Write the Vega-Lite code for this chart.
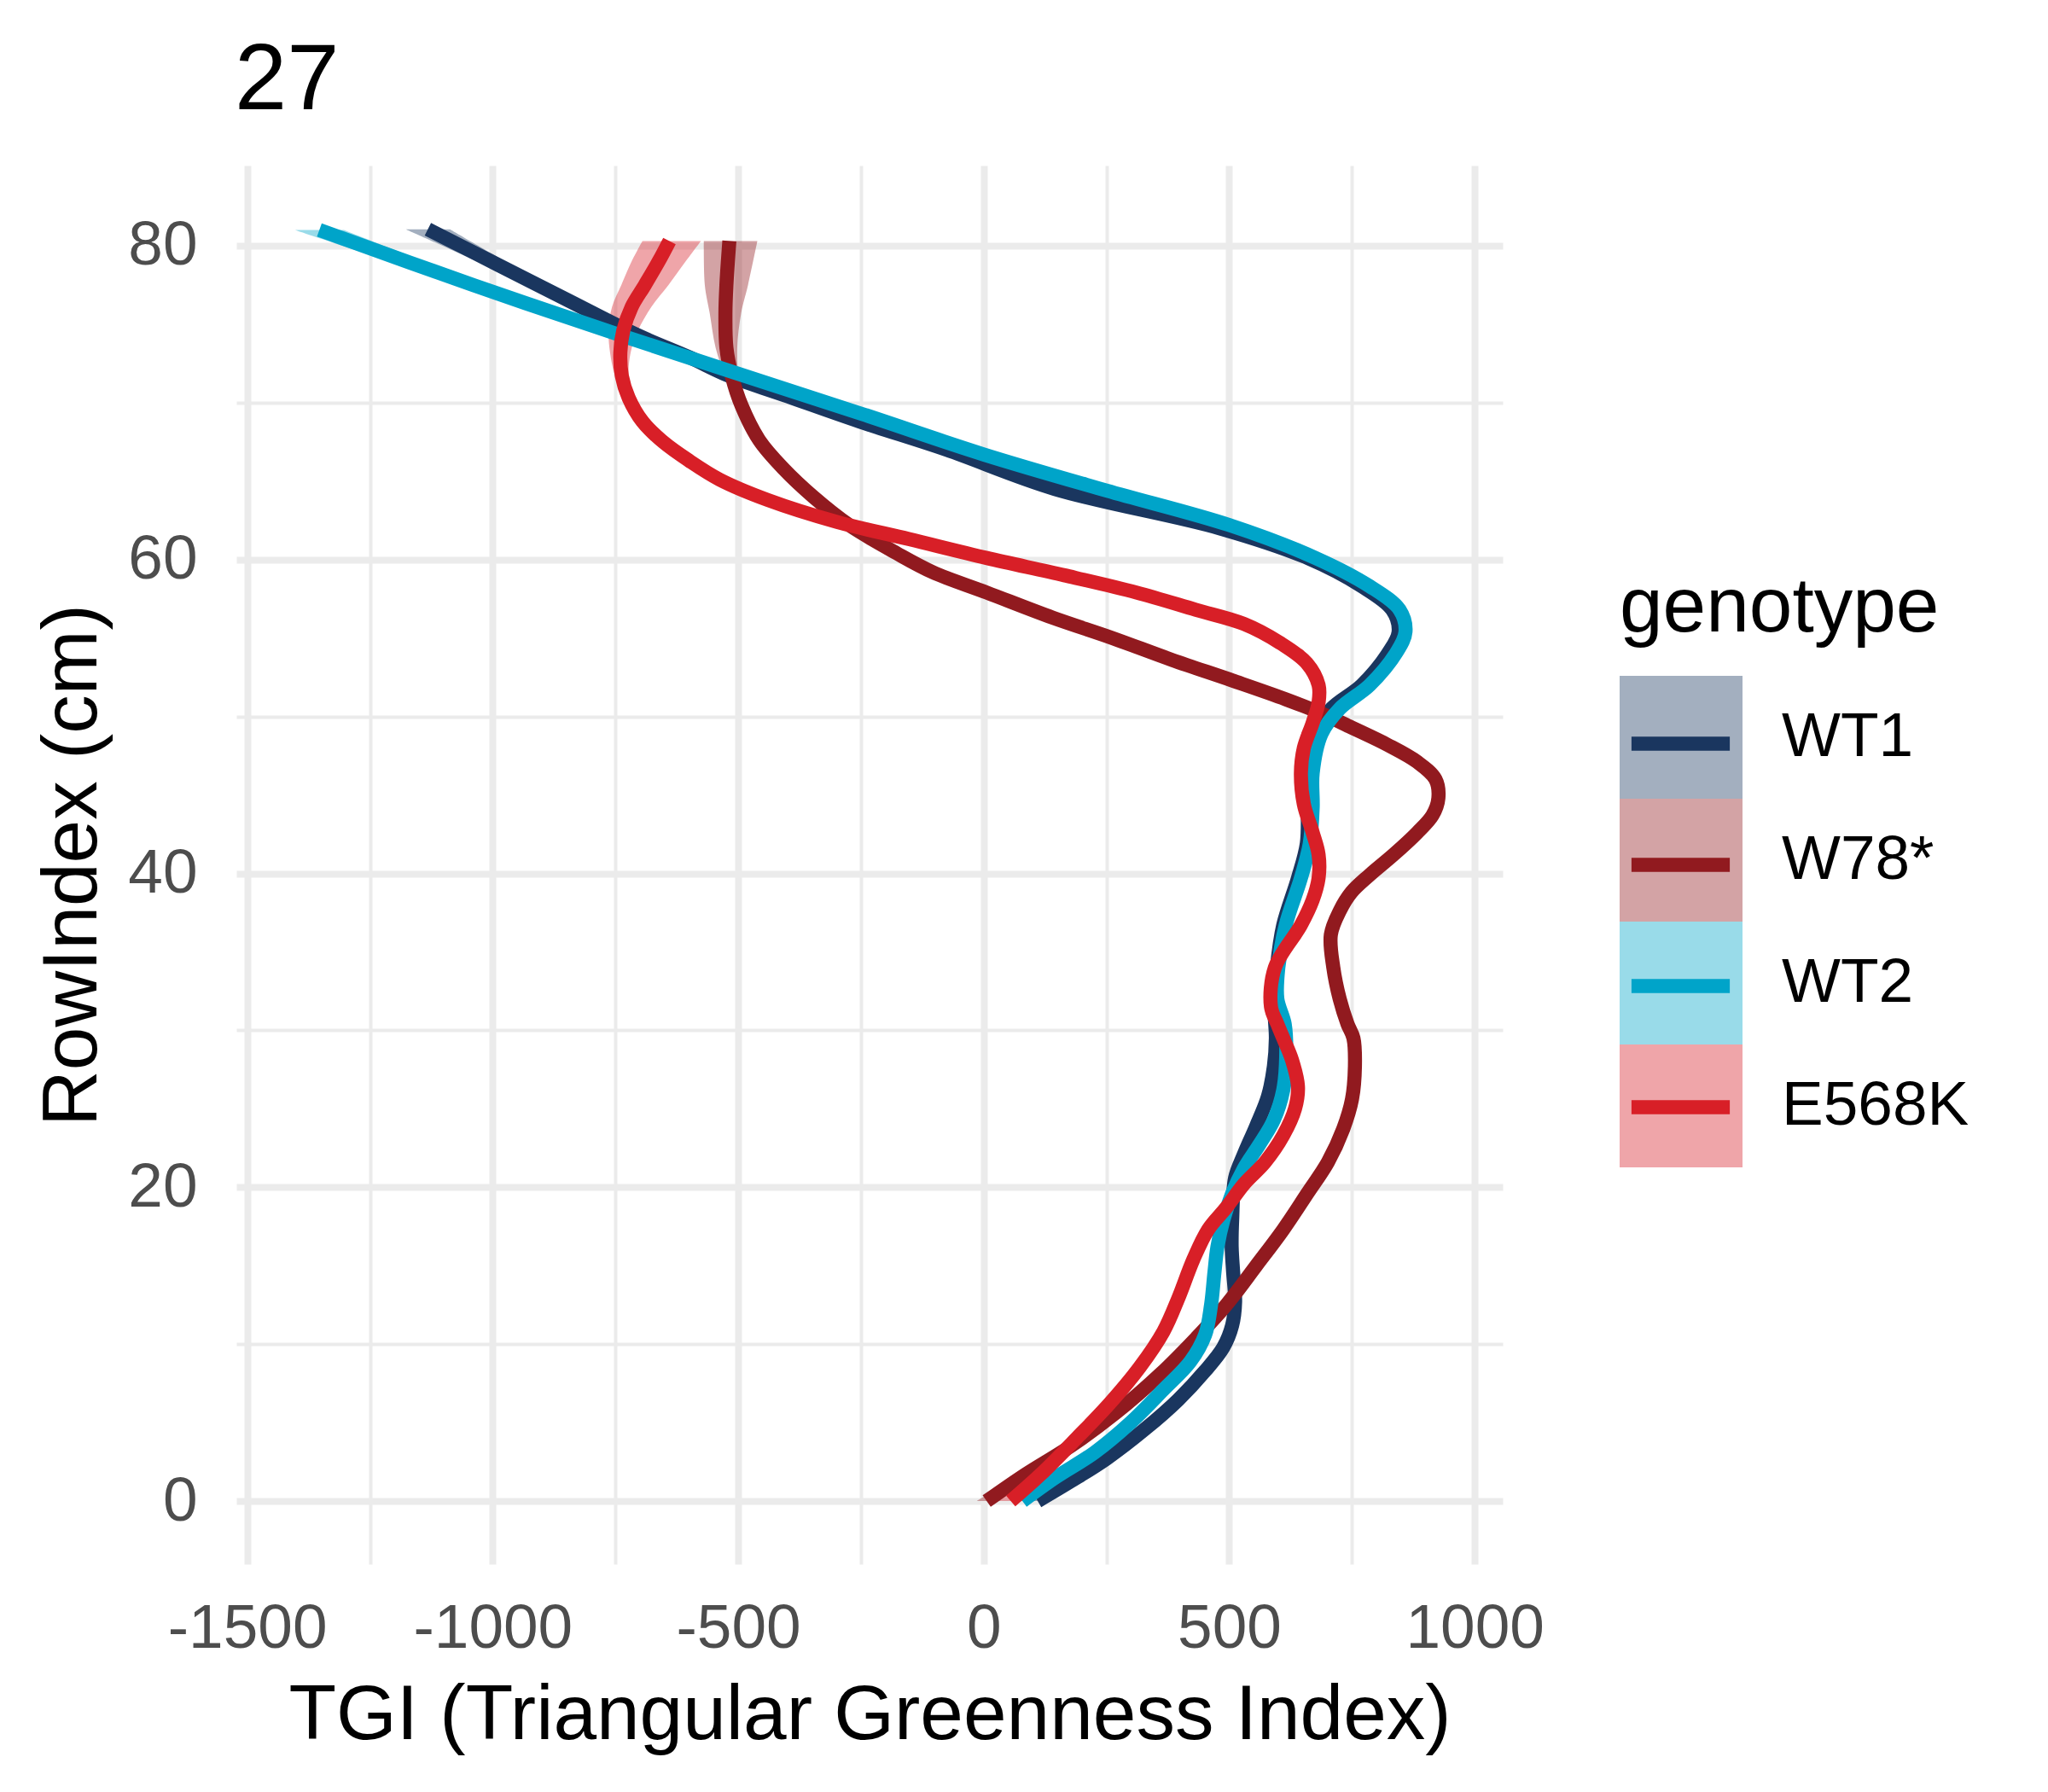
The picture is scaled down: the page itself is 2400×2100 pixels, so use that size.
{
  "$schema": "https://vega.github.io/schema/vega-lite/v6.json",
  "autosize": {"type": "none"},
  "padding": {"left": 277, "top": 194, "right": 639, "bottom": 267},
  "width": 1484,
  "height": 1639,
  "background": "white",
  "title": {"text": "27", "anchor": "start", "frame": "group", "fontSize": 110, "font": "Liberation Sans", "fontWeight": "normal", "color": "black", "baseline": "alphabetic", "offset": -44, "dx": -2},
  "config": {
    "view": {"stroke": null},
    "font": "Liberation Sans",
    "axis": {"domain": false, "ticks": false, "tickSize": 0, "gridColor": "#ebebeb", "labelFont": "Liberation Sans", "titleFont": "Liberation Sans", "labelColor": "#4d4d4d", "labelFontSize": 73, "labelLimit": 1000, "titleFontSize": 91, "titleColor": "black", "titleFontWeight": "normal", "titleLimit": 3000},
    "legend": {"labelFont": "Liberation Sans", "titleFont": "Liberation Sans", "labelLimit": 1000, "titleLimit": 1000}
  },
  "data": {"values": [
    {"g":"WT1","y":0,"x":110,"lo":100,"hi":120},
    {"g":"WT1","y":1.25,"x":177,"lo":170,"hi":184},
    {"g":"WT1","y":2.7,"x":250,"lo":243,"hi":257},
    {"g":"WT1","y":4.6,"x":329,"lo":322,"hi":336},
    {"g":"WT1","y":6.45,"x":396,"lo":389,"hi":403},
    {"g":"WT1","y":8.3,"x":451,"lo":444,"hi":458},
    {"g":"WT1","y":9.8,"x":488,"lo":481,"hi":495},
    {"g":"WT1","y":11.2,"x":506,"lo":499,"hi":513},
    {"g":"WT1","y":12.7,"x":512,"lo":505,"hi":519},
    {"g":"WT1","y":14.6,"x":508,"lo":501,"hi":515},
    {"g":"WT1","y":16.2,"x":505,"lo":498,"hi":512},
    {"g":"WT1","y":17.9,"x":506,"lo":499,"hi":513},
    {"g":"WT1","y":20.6,"x":512,"lo":505,"hi":519},
    {"g":"WT1","y":22.1,"x":530,"lo":523,"hi":537},
    {"g":"WT1","y":23.9,"x":555,"lo":548,"hi":562},
    {"g":"WT1","y":25.8,"x":579,"lo":572,"hi":586},
    {"g":"WT1","y":27.7,"x":591,"lo":584,"hi":598},
    {"g":"WT1","y":29.5,"x":595,"lo":588,"hi":602},
    {"g":"WT1","y":31.5,"x":592,"lo":585,"hi":599},
    {"g":"WT1","y":34,"x":597,"lo":590,"hi":604},
    {"g":"WT1","y":36.7,"x":610,"lo":603,"hi":617},
    {"g":"WT1","y":39.7,"x":640,"lo":633,"hi":647},
    {"g":"WT1","y":41.9,"x":658,"lo":651,"hi":665},
    {"g":"WT1","y":44.2,"x":660,"lo":653,"hi":667},
    {"g":"WT1","y":46.4,"x":660,"lo":653,"hi":667},
    {"g":"WT1","y":48.9,"x":675,"lo":668,"hi":682},
    {"g":"WT1","y":50.5,"x":708,"lo":701,"hi":715},
    {"g":"WT1","y":52,"x":770,"lo":763,"hi":777},
    {"g":"WT1","y":54.1,"x":825,"lo":818,"hi":832},
    {"g":"WT1","y":55.4,"x":845,"lo":838,"hi":852},
    {"g":"WT1","y":56.8,"x":832,"lo":825,"hi":839},
    {"g":"WT1","y":58.3,"x":770,"lo":763,"hi":777},
    {"g":"WT1","y":60.1,"x":660,"lo":653,"hi":667},
    {"g":"WT1","y":62,"x":480,"lo":473,"hi":487},
    {"g":"WT1","y":64.5,"x":145,"lo":138,"hi":152},
    {"g":"WT1","y":67,"x":-76,"lo":-83,"hi":-69},
    {"g":"WT1","y":68.8,"x":-253,"lo":-260,"hi":-246},
    {"g":"WT1","y":70.5,"x":-408,"lo":-415,"hi":-401},
    {"g":"WT1","y":71.7,"x":-518,"lo":-525,"hi":-511},
    {"g":"WT1","y":72.9,"x":-600,"lo":-608,"hi":-592},
    {"g":"WT1","y":74.3,"x":-705,"lo":-716,"hi":-694},
    {"g":"WT1","y":76.5,"x":-845,"lo":-862,"hi":-828},
    {"g":"WT1","y":78.8,"x":-990,"lo":-1018,"hi":-962},
    {"g":"WT1","y":81.05,"x":-1132,"lo":-1177,"hi":-1087},

    {"g":"W78*","y":0,"x":6,"lo":-14,"hi":26},
    {"g":"W78*","y":1.7,"x":85,"lo":75,"hi":95},
    {"g":"W78*","y":3.5,"x":177,"lo":169,"hi":185},
    {"g":"W78*","y":5.6,"x":268,"lo":261,"hi":275},
    {"g":"W78*","y":8.1,"x":360,"lo":353,"hi":367},
    {"g":"W78*","y":10.4,"x":433,"lo":426,"hi":440},
    {"g":"W78*","y":12.5,"x":494,"lo":487,"hi":501},
    {"g":"W78*","y":15,"x":555,"lo":548,"hi":562},
    {"g":"W78*","y":17.3,"x":610,"lo":603,"hi":617},
    {"g":"W78*","y":19.6,"x":659,"lo":652,"hi":666},
    {"g":"W78*","y":21.6,"x":701,"lo":694,"hi":708},
    {"g":"W78*","y":23.7,"x":732,"lo":725,"hi":739},
    {"g":"W78*","y":25.6,"x":750,"lo":743,"hi":757},
    {"g":"W78*","y":27.7,"x":756,"lo":749,"hi":763},
    {"g":"W78*","y":29.5,"x":753,"lo":746,"hi":760},
    {"g":"W78*","y":30.4,"x":741,"lo":734,"hi":748},
    {"g":"W78*","y":32,"x":725,"lo":718,"hi":732},
    {"g":"W78*","y":34,"x":712,"lo":705,"hi":719},
    {"g":"W78*","y":36.1,"x":707,"lo":700,"hi":714},
    {"g":"W78*","y":37.6,"x":725,"lo":718,"hi":732},
    {"g":"W78*","y":38.8,"x":749,"lo":742,"hi":756},
    {"g":"W78*","y":39.9,"x":786,"lo":779,"hi":793},
    {"g":"W78*","y":41.2,"x":835,"lo":828,"hi":842},
    {"g":"W78*","y":42.6,"x":883,"lo":876,"hi":890},
    {"g":"W78*","y":43.7,"x":914,"lo":907,"hi":921},
    {"g":"W78*","y":44.8,"x":926,"lo":919,"hi":933},
    {"g":"W78*","y":46,"x":920,"lo":913,"hi":927},
    {"g":"W78*","y":47.1,"x":883,"lo":876,"hi":890},
    {"g":"W78*","y":48.2,"x":822,"lo":815,"hi":829},
    {"g":"W78*","y":49.3,"x":749,"lo":742,"hi":756},
    {"g":"W78*","y":50.2,"x":688,"lo":681,"hi":695},
    {"g":"W78*","y":51.1,"x":615,"lo":608,"hi":622},
    {"g":"W78*","y":52.3,"x":506,"lo":499,"hi":513},
    {"g":"W78*","y":53.6,"x":384,"lo":377,"hi":391},
    {"g":"W78*","y":55,"x":262,"lo":255,"hi":269},
    {"g":"W78*","y":56.3,"x":140,"lo":133,"hi":147},
    {"g":"W78*","y":57.9,"x":6,"lo":-1,"hi":13},
    {"g":"W78*","y":59.2,"x":-104,"lo":-111,"hi":-97},
    {"g":"W78*","y":60.4,"x":-177,"lo":-184,"hi":-170},
    {"g":"W78*","y":62.2,"x":-274,"lo":-281,"hi":-267},
    {"g":"W78*","y":64,"x":-347,"lo":-354,"hi":-340},
    {"g":"W78*","y":65.8,"x":-408,"lo":-415,"hi":-401},
    {"g":"W78*","y":67.6,"x":-457,"lo":-465,"hi":-449},
    {"g":"W78*","y":69.8,"x":-493,"lo":-503,"hi":-483},
    {"g":"W78*","y":71.7,"x":-513,"lo":-527,"hi":-499},
    {"g":"W78*","y":73.5,"x":-524,"lo":-546,"hi":-502},
    {"g":"W78*","y":75.7,"x":-526,"lo":-558,"hi":-494},
    {"g":"W78*","y":77.5,"x":-524,"lo":-568,"hi":-480},
    {"g":"W78*","y":80.3,"x":-518,"lo":-570,"hi":-461},

    {"g":"WT2","y":0,"x":79,"lo":70,"hi":88},
    {"g":"WT2","y":1.5,"x":146,"lo":139,"hi":153},
    {"g":"WT2","y":3.1,"x":226,"lo":219,"hi":233},
    {"g":"WT2","y":5,"x":299,"lo":292,"hi":306},
    {"g":"WT2","y":7.1,"x":366,"lo":359,"hi":373},
    {"g":"WT2","y":8.9,"x":421,"lo":414,"hi":428},
    {"g":"WT2","y":10.6,"x":451,"lo":444,"hi":458},
    {"g":"WT2","y":12.5,"x":463,"lo":456,"hi":470},
    {"g":"WT2","y":14.6,"x":470,"lo":463,"hi":477},
    {"g":"WT2","y":16.2,"x":476,"lo":469,"hi":483},
    {"g":"WT2","y":17.9,"x":488,"lo":481,"hi":495},
    {"g":"WT2","y":19.6,"x":506,"lo":499,"hi":513},
    {"g":"WT2","y":21.2,"x":530,"lo":523,"hi":537},
    {"g":"WT2","y":22.7,"x":561,"lo":554,"hi":568},
    {"g":"WT2","y":24.3,"x":591,"lo":584,"hi":598},
    {"g":"WT2","y":26.2,"x":610,"lo":603,"hi":617},
    {"g":"WT2","y":28.3,"x":616,"lo":609,"hi":623},
    {"g":"WT2","y":30.4,"x":613,"lo":606,"hi":620},
    {"g":"WT2","y":32,"x":598,"lo":591,"hi":605},
    {"g":"WT2","y":34,"x":600,"lo":593,"hi":607},
    {"g":"WT2","y":36.7,"x":615,"lo":608,"hi":622},
    {"g":"WT2","y":39.7,"x":646,"lo":639,"hi":653},
    {"g":"WT2","y":41.9,"x":664,"lo":657,"hi":671},
    {"g":"WT2","y":44.2,"x":670,"lo":663,"hi":677},
    {"g":"WT2","y":46.4,"x":670,"lo":663,"hi":677},
    {"g":"WT2","y":48.9,"x":688,"lo":681,"hi":695},
    {"g":"WT2","y":50.5,"x":725,"lo":718,"hi":732},
    {"g":"WT2","y":52,"x":786,"lo":779,"hi":793},
    {"g":"WT2","y":54.1,"x":841,"lo":834,"hi":848},
    {"g":"WT2","y":55.4,"x":859,"lo":852,"hi":866},
    {"g":"WT2","y":56.8,"x":847,"lo":840,"hi":854},
    {"g":"WT2","y":58.3,"x":786,"lo":779,"hi":793},
    {"g":"WT2","y":60.1,"x":676,"lo":669,"hi":683},
    {"g":"WT2","y":62.2,"x":500,"lo":493,"hi":507},
    {"g":"WT2","y":64.4,"x":250,"lo":243,"hi":257},
    {"g":"WT2","y":66.7,"x":0,"lo":-7,"hi":7},
    {"g":"WT2","y":69.3,"x":-250,"lo":-257,"hi":-243},
    {"g":"WT2","y":74.3,"x":-740,"lo":-752,"hi":-728},
    {"g":"WT2","y":77.5,"x":-1040,"lo":-1065,"hi":-1015},
    {"g":"WT2","y":81,"x":-1353,"lo":-1403,"hi":-1303},

    {"g":"E568K","y":0,"x":55,"lo":30,"hi":80},
    {"g":"E568K","y":1.7,"x":116,"lo":104,"hi":128},
    {"g":"E568K","y":4,"x":189,"lo":181,"hi":197},
    {"g":"E568K","y":6.2,"x":256,"lo":249,"hi":263},
    {"g":"E568K","y":8.5,"x":317,"lo":310,"hi":324},
    {"g":"E568K","y":10.8,"x":366,"lo":359,"hi":373},
    {"g":"E568K","y":12.9,"x":396,"lo":389,"hi":403},
    {"g":"E568K","y":15.4,"x":427,"lo":420,"hi":434},
    {"g":"E568K","y":17.3,"x":457,"lo":450,"hi":464},
    {"g":"E568K","y":18.7,"x":494,"lo":487,"hi":501},
    {"g":"E568K","y":20.2,"x":530,"lo":523,"hi":537},
    {"g":"E568K","y":21.6,"x":573,"lo":566,"hi":580},
    {"g":"E568K","y":23.3,"x":610,"lo":603,"hi":617},
    {"g":"E568K","y":25,"x":634,"lo":627,"hi":641},
    {"g":"E568K","y":26.4,"x":640,"lo":633,"hi":647},
    {"g":"E568K","y":28.1,"x":628,"lo":621,"hi":635},
    {"g":"E568K","y":29.5,"x":610,"lo":603,"hi":617},
    {"g":"E568K","y":30.4,"x":598,"lo":591,"hi":605},
    {"g":"E568K","y":31.5,"x":585,"lo":578,"hi":592},
    {"g":"E568K","y":34,"x":593,"lo":586,"hi":600},
    {"g":"E568K","y":36.7,"x":646,"lo":639,"hi":653},
    {"g":"E568K","y":38.3,"x":670,"lo":663,"hi":677},
    {"g":"E568K","y":39.7,"x":682,"lo":675,"hi":689},
    {"g":"E568K","y":41.2,"x":682,"lo":675,"hi":689},
    {"g":"E568K","y":42.6,"x":670,"lo":663,"hi":677},
    {"g":"E568K","y":44.4,"x":652,"lo":645,"hi":659},
    {"g":"E568K","y":46.4,"x":646,"lo":639,"hi":653},
    {"g":"E568K","y":48,"x":652,"lo":645,"hi":659},
    {"g":"E568K","y":49.6,"x":670,"lo":663,"hi":677},
    {"g":"E568K","y":50.9,"x":682,"lo":675,"hi":689},
    {"g":"E568K","y":52,"x":682,"lo":675,"hi":689},
    {"g":"E568K","y":53.4,"x":658,"lo":651,"hi":665},
    {"g":"E568K","y":54.7,"x":603,"lo":596,"hi":610},
    {"g":"E568K","y":55.9,"x":530,"lo":523,"hi":537},
    {"g":"E568K","y":56.8,"x":432,"lo":425,"hi":439},
    {"g":"E568K","y":57.9,"x":311,"lo":304,"hi":318},
    {"g":"E568K","y":59,"x":164,"lo":157,"hi":171},
    {"g":"E568K","y":60.1,"x":6,"lo":-1,"hi":13},
    {"g":"E568K","y":61.3,"x":-152,"lo":-159,"hi":-145},
    {"g":"E568K","y":62.4,"x":-299,"lo":-306,"hi":-292},
    {"g":"E568K","y":63.8,"x":-440,"lo":-447,"hi":-433},
    {"g":"E568K","y":65.1,"x":-538,"lo":-545,"hi":-531},
    {"g":"E568K","y":66.3,"x":-600,"lo":-607,"hi":-593},
    {"g":"E568K","y":67.5,"x":-653,"lo":-660,"hi":-646},
    {"g":"E568K","y":68.8,"x":-695,"lo":-703,"hi":-687},
    {"g":"E568K","y":70.3,"x":-723,"lo":-733,"hi":-713},
    {"g":"E568K","y":71.7,"x":-737,"lo":-751,"hi":-723},
    {"g":"E568K","y":73.2,"x":-740,"lo":-761,"hi":-719},
    {"g":"E568K","y":74.6,"x":-734,"lo":-764,"hi":-704},
    {"g":"E568K","y":76.1,"x":-717,"lo":-757,"hi":-677},
    {"g":"E568K","y":77.5,"x":-690,"lo":-738,"hi":-642},
    {"g":"E568K","y":79,"x":-662,"lo":-717,"hi":-607},
    {"g":"E568K","y":80.3,"x":-640,"lo":-695,"hi":-576}
  ]},
  "encoding": {
    "y": {"field": "y", "type": "quantitative",
      "scale": {"domain": [-4.02, 85.11], "nice": false, "zero": false},
      "axis": {"title": "RowIndex (cm)", "values": [0,10,20,30,40,50,60,70,80],
        "labelExpr": "datum.value % 20 === 0 ? '' + datum.value : ''",
        "gridWidth": {"condition": {"test": "datum.value % 20 === 0", "value": 8}, "value": 4},
        "labelPadding": 46, "titlePadding": 18}}
  },
  "layer": [
    {
      "mark": {"type": "area", "orient": "horizontal", "fillOpacity": 0.4, "interpolate": "catmull-rom"},
      "encoding": {
        "x": {"field": "lo", "type": "quantitative", "stack": null,
          "scale": {"domain": [-1522, 1057], "nice": false, "zero": false},
          "axis": {"title": "TGI (Triangular Greenness Index)", "values": [-1500,-1250,-1000,-750,-500,-250,0,250,500,750,1000],
            "labelExpr": "datum.value % 500 === 0 ? '' + datum.value : ''",
            "gridWidth": {"condition": {"test": "datum.value % 500 === 0", "value": 8}, "value": 4},
            "labelPadding": 39, "titlePadding": 20}},
        "x2": {"field": "hi"},
        "fill": {"field": "g", "type": "nominal",
          "scale": {"domain": ["WT1","W78*","WT2","E568K"], "range": ["#1a365f","#911a1f","#00a4c9","#d81f27"]},
          "legend": {"orient": "none", "legendX": 1621, "legendY": 474, "title": "genotype", "padding": 0,
            "titleFontSize": 91, "titleColor": "black", "titleFontWeight": "normal", "titlePadding": 33,
            "symbolType": "square", "symbolSize": 20736, "symbolStrokeWidth": 0, "symbolOpacity": 0.4,
            "rowPadding": 0, "labelFontSize": 73, "labelColor": "black", "labelOffset": 46}}
      }
    },
    {
      "mark": {"type": "line", "strokeWidth": 16.5, "interpolate": "catmull-rom"},
      "encoding": {
        "x": {"field": "x", "type": "quantitative"},
        "order": {"field": "y", "type": "quantitative"},
        "stroke": {"field": "g", "type": "nominal", "sort": ["WT1","W78*","WT2","E568K"],
          "scale": {"range": ["#1a365f","#911a1f","#00a4c9","#d81f27"]},
          "legend": {"orient": "none", "legendX": 1612, "legendY": 597, "title": null, "padding": 0,
            "symbolType": "M-0.383,-0.383M0.383,0.383M-0.8,0H0.8", "symbolSize": 20736, "symbolStrokeWidth": 16.5,
            "rowPadding": 0, "labelExpr": "''", "labelFontSize": 10}}
      }
    }
  ]
}
